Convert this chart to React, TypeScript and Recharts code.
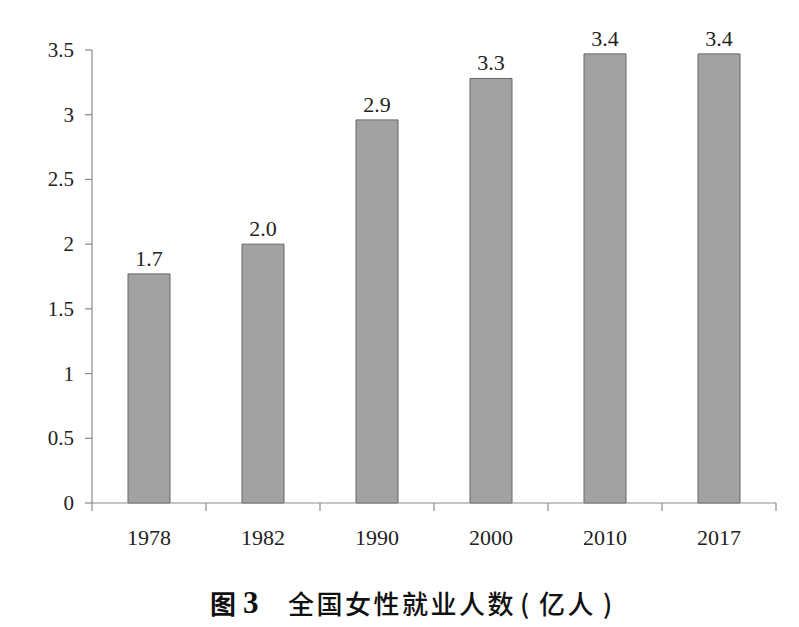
import React from "react";
import { BarChart, Bar, XAxis, YAxis, LabelList } from "recharts";

const years = ["1978", "1982", "1990", "2000", "2010", "2017"];
const values = [1.77, 2.0, 2.96, 3.28, 3.47, 3.47];
const valueLabels = ["1.7", "2.0", "2.9", "3.3", "3.4", "3.4"];
const yTicks = [0, 0.5, 1, 1.5, 2, 2.5, 3, 3.5];
const titleMain = "全国女性就业人数";
const titleUnit = "亿人";
const figWord = "图";
const figNum = "3";

const data = years.map((y, i) => ({ year: y, value: values[i], label: valueLabels[i] }));

const serif = "'Liberation Serif', 'DejaVu Serif', serif";
const cjk = "'Noto Sans CJK SC', sans-serif";
const axisColor = "#8a8a8a";

const XTick = (props: any) => {
  const { x, y, payload, index } = props;
  const band = 114;
  const left = x - band / 2;
  return (
    <g>
      <line x1={left} y1={y - 8} x2={left} y2={y} stroke={axisColor} strokeWidth={1.2} />
      {index === years.length - 1 && (
        <line x1={x + band / 2} y1={y - 8} x2={x + band / 2} y2={y} stroke={axisColor} strokeWidth={1.2} />
      )}
      <text x={x} y={y + 34} textAnchor="middle" style={{ fontFamily: serif }} fontSize={22} fill="#222">
        {payload.value}
      </text>
    </g>
  );
};

const YTick = (props: any) => {
  const { x, y, payload } = props;
  return (
    <text x={x - 5} y={y + 7} textAnchor="end" style={{ fontFamily: serif }} fontSize={21} fill="#222">
      {String(payload.value)}
    </text>
  );
};

const BarLabel = (props: any) => {
  const { x, y, width, value } = props;
  return (
    <text x={x + width / 2} y={y - 8} textAnchor="middle" style={{ fontFamily: serif }} fontSize={22} fill="#222">
      {value}
    </text>
  );
};

const tStyle: React.CSSProperties = {
  position: "absolute",
  top: 590,
  lineHeight: "26px",
  fontSize: 26,
  whiteSpace: "nowrap",
  color: "#111",
};

export default function App() {
  return (
    <div style={{ position: "absolute", left: 0, top: 0, width: 799, height: 627, background: "#fff" }}>
      <BarChart
        width={799}
        height={560}
        data={data}
        margin={{ top: 50, right: 23, left: 0, bottom: 17 }}
      >
        <XAxis
          dataKey="year"
          axisLine={{ stroke: axisColor, strokeWidth: 1.2 }}
          tickLine={false}
          tick={<XTick />}
          height={40}
          interval={0}
        />
        <YAxis
          domain={[0, 3.5]}
          ticks={yTicks}
          width={92}
          axisLine={{ stroke: axisColor, strokeWidth: 1.2 }}
          tickLine={{ stroke: axisColor, strokeWidth: 1.2 }}
          tickSize={7}
          tickMargin={6}
          tick={<YTick />}
          interval={0}
        />
        <Bar dataKey="value" barSize={42} fill="#a2a2a2" stroke="#666" strokeWidth={1} isAnimationActive={false}>
          <LabelList dataKey="label" content={<BarLabel />} />
        </Bar>
      </BarChart>
      <span style={{ ...tStyle, left: 210, fontFamily: cjk, fontWeight: 700 }}>{figWord}</span>
      <span style={{ ...tStyle, left: 243, top: 588, lineHeight: "30px", fontSize: 31, fontFamily: serif, fontWeight: 700 }}>{figNum}</span>
      <span style={{ ...tStyle, left: 288, fontFamily: cjk, fontWeight: 500, letterSpacing: 2.5 }}>{titleMain}</span>
      <span style={{ ...tStyle, left: 520, fontFamily: cjk, fontWeight: 500 }}>(</span>
      <span style={{ ...tStyle, left: 539, fontFamily: cjk, fontWeight: 500, letterSpacing: 2.5 }}>{titleUnit}</span>
      <span style={{ ...tStyle, left: 603, fontFamily: cjk, fontWeight: 500 }}>)</span>
    </div>
  );
}
